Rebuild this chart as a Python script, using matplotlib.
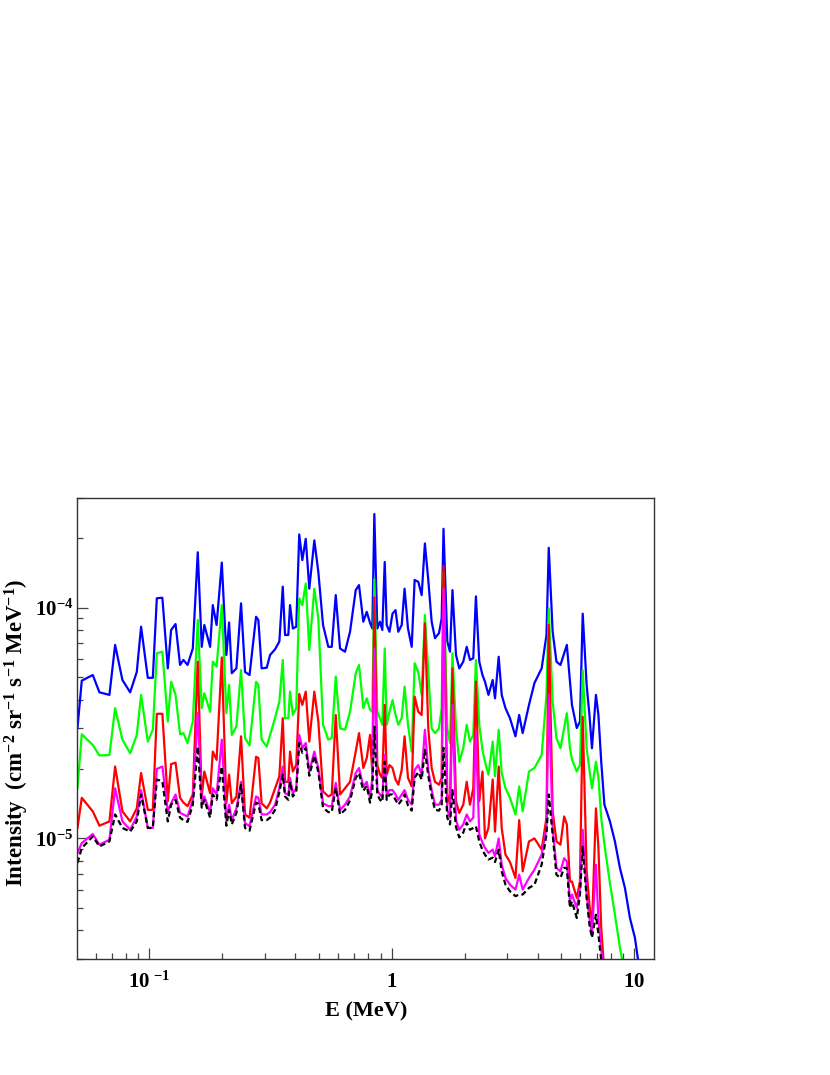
import numpy as np
import matplotlib
matplotlib.use("Agg")
import matplotlib.pyplot as plt
from matplotlib.ticker import LogLocator, NullFormatter

plt.rcParams['font.family'] = ['Liberation Serif', 'DejaVu Serif']
plt.rcParams['font.weight'] = 'bold'
plt.rcParams['mathtext.fontset'] = 'custom'
plt.rcParams['mathtext.rm'] = 'Liberation Serif:bold'
plt.rcParams['mathtext.bf'] = 'Liberation Serif:bold'
plt.rcParams['mathtext.it'] = 'Liberation Serif:bold'

nan = np.nan

# energy bins (MeV)
energy = [
    0.0505, 0.0526, 0.0584, 0.0622, 0.0684, 0.0722, 0.0774, 0.0833, 0.0887, 0.0924,
    0.0985, 0.1033, 0.1073, 0.1131, 0.1191, 0.1229, 0.1282, 0.1338, 0.1381, 0.1437,
    0.151, 0.1583, 0.1644, 0.1685, 0.178, 0.1826, 0.1893, 0.1989, 0.2077, 0.2132,
    0.2187, 0.2285, 0.2388, 0.248, 0.2589, 0.2754, 0.2815, 0.2903, 0.3049, 0.3146,
    0.33, 0.3436, 0.3549, 0.3627, 0.3742, 0.3803, 0.3906, 0.4034, 0.415, 0.4274,
    0.4415, 0.4567, 0.479, 0.4976, 0.5203, 0.5472, 0.5652, 0.5871, 0.6115, 0.6412,
    0.6724, 0.7098, 0.7323, 0.7629, 0.7882, 0.8131, 0.831, 0.847, 0.8712, 0.894,
    0.9137, 0.9348, 0.9527, 0.9784, 1.0067, 1.0358, 1.0637, 1.0985, 1.129, 1.166,
    1.208, 1.242, 1.286, 1.328, 1.369, 1.414, 1.46, 1.507, 1.565, 1.606,
    1.634, 1.694, 1.738, 1.779, 1.84, 1.898, 1.971, 2.037, 2.101, 2.168,
    2.223, 2.295, 2.366, 2.423, 2.504, 2.607, 2.665, 2.76, 2.84, 2.944,
    3.072, 3.237, 3.353, 3.466, 3.68, 3.877, 4.151, 4.345, 4.44, 4.608,
    4.777, 4.962, 5.139, 5.273, 5.431, 5.536, 5.794, 5.972, 6.13, 6.364,
    6.536, 6.693, 6.951, 7.118, 7.309, 7.535, 7.94, 8.325, 8.73, 9.155,
    9.6, 10.07, 10.36, 10.6]

# intensities in units of 1e-5 cm^-2 sr^-1 s^-1 MeV^-1
blue = [
    3.01, 4.83, 5.11, 4.30, 4.19, 6.90, 4.86, 4.30, 5.27, 8.28,
    4.97, 4.97, 11.0, 11.05, 5.46, 8.01, 8.50, 5.65, 5.94, 5.65,
    6.66, 17.4, 6.77, 8.42, 6.77, 10.27, 8.42, 15.7, 6.24, 8.63,
    5.20, 5.46, 10.45, 5.27, 5.11, 9.14, 8.85, 5.46, 5.50, 6.24,
    6.61, 7.14, 12.35, 7.62, 7.62, 10.27, 8.13, 8.28, 20.8, 16.1,
    19.9, 12.1, 19.6, 14.3, 8.42, 6.77, 6.77, 11.35, 6.66, 6.45,
    7.87, 11.93, 12.54, 8.70, 9.60, 8.6, 8.13, 25.5, 8.13, 8.70,
    8.01, 15.8, 8.42, 7.87, 9.43, 9.77, 7.87, 8.42, 12.1, 8.13,
    6.77, 13.2, 12.95, 11.35, 19.0, 13.2, 8.70, 7.38, 7.76, 9.0,
    22.0, 7.14, 6.45, 11.93, 6.24, 5.46, 5.84, 6.77, 5.94, 6.04,
    11.2, 5.84, 5.11, 4.78, 4.19, 4.86, 4.05, 6.13, 4.19, 3.67,
    3.32, 2.77, 3.43, 2.86, 3.79, 4.72, 5.46, 7.62, 18.2, 7.87,
    5.84, 5.65, 6.35, 6.90, 4.78, 3.79, 3.01, 3.21, 9.43, 4.63,
    3.43, 2.46, 4.19, 3.43, 2.15, 1.40, 1.185, 0.97, 0.745, 0.61,
    0.452, 0.37, 0.30, 0.25]

green = [
    1.65, 2.83, 2.54, 2.29, 2.30, 3.67, 2.68, 2.34, 2.81, 4.19,
    2.63, 2.96, 6.35, 6.45, 3.21, 4.78, 4.19, 2.83, 2.86, 2.59,
    3.21, 8.85, 3.67, 4.26, 3.54, 5.84, 5.55, 10.27, 3.49, 4.63,
    2.81, 3.06, 5.37, 2.72, 2.53, 4.78, 4.63, 2.68, 2.50, 2.81,
    3.33, 3.92, 5.94, 3.32, 3.32, 4.33, 3.43, 3.67, 11.0, 10.27,
    12.74, 6.56, 12.1, 8.99, 3.11, 2.68, 2.72, 5.03, 3.0, 2.96,
    3.54, 5.20, 5.65, 3.67, 4.05, 3.61, 3.54, 13.3, 3.54, 3.32,
    3.11, 6.66, 3.11, 3.54, 3.98, 3.43, 3.11, 3.33, 4.55, 3.11,
    2.38, 5.75, 5.27, 4.19, 9.30, 5.27, 3.0, 2.86, 3.0, 3.67,
    14.2, 3.0, 2.59, 6.35, 3.0, 2.15, 2.46, 3.11, 2.63, 2.81,
    5.94, 3.11, 2.42, 2.15, 1.89, 2.63, 1.86, 2.96, 1.92, 1.65,
    1.50, 1.27, 1.68, 1.31, 1.95, 2.02, 2.30, 4.19, 9.95, 3.92,
    2.72, 2.46, 3.0, 3.49, 2.46, 2.2, 1.95, 2.08, 5.37, 2.46,
    1.98, 1.65, 2.15, 1.83, 1.23, 0.94, 0.64, 0.467, 0.336, 0.26,
    nan, nan, nan, nan]

red = [
    1.11, 1.50, 1.31, 1.135, 1.185, 2.05, 1.31, 1.185, 1.35, 1.92,
    1.33, 1.33, 3.47, 3.47, 1.45, 2.10, 2.13, 1.50, 1.43, 1.38,
    1.55, 5.84, 1.52, 1.95, 1.57, 2.38, 2.19, 6.09, 1.42, 1.89,
    1.42, 1.52, 2.77, 1.27, 1.23, 2.26, 2.23, 1.42, 1.35, 1.43,
    1.65, 1.86, 3.32, 1.76, 1.76, 2.38, 1.95, 2.08, 4.23, 3.79,
    4.33, 2.63, 4.33, 3.21, 1.60, 1.52, 1.55, 3.43, 1.55, 1.65,
    1.76, 2.38, 2.86, 2.02, 2.23, 2.81, 1.92, 11.1, 2.08, 1.89,
    1.83, 3.79, 1.89, 2.08, 2.02, 1.80, 1.71, 1.98, 2.77, 1.83,
    1.68, 4.12, 3.54, 3.43, 8.56, 3.0, 2.02, 1.76, 1.71, 1.83,
    15.2, 1.55, 1.40, 5.46, 1.45, 1.29, 1.40, 1.76, 1.40, 1.65,
    4.78, 1.45, 1.95, 1.0, 1.11, 1.80, 1.07, 2.05, 1.11, 0.85,
    0.79, 0.674, 1.20, 0.72, 0.97, 1.0, 0.894, 1.23, 8.42, 1.31,
    0.97, 0.94, 1.245, 1.15, 0.65, 0.65, 0.552, 0.65, 3.37, 0.72,
    0.516, 0.41, 1.35, 0.91, 0.41, 0.26, nan, nan, nan, nan,
    nan, nan, nan, nan]

magenta = [
    0.865, 0.955, 1.045, 0.939, 0.987, 1.65, 1.185, 1.09, 1.245, 1.62,
    1.11, 1.11, 2.0, 2.05, 1.31, 1.42, 1.55, 1.29, 1.27, 1.245,
    1.47, 3.49, 1.45, 1.52, 1.29, 1.65, 1.55, 2.68, 1.20, 1.40,
    1.20, 1.35, 1.76, 1.165, 1.13, 1.52, 1.50, 1.27, 1.27, 1.30,
    1.40, 1.65, 2.05, 1.57, 1.55, 1.83, 1.57, 1.65, 2.81, 2.46,
    2.59, 1.95, 2.38, 2.02, 1.42, 1.38, 1.38, 1.74, 1.33, 1.40,
    1.52, 1.92, 2.02, 1.68, 1.76, 1.50, 1.83, 6.67, 1.62, 1.55,
    1.51, 2.30, 1.55, 1.62, 1.62, 1.55, 1.47, 1.55, 1.62, 1.47,
    1.40, 1.98, 2.08, 1.89, 2.96, 1.98, 1.62, 1.40, 1.40, 1.47,
    12.1, 1.33, 1.23, 3.79, 1.20, 1.09, 1.15, 1.27, 1.185, 1.23,
    2.86, 1.04, 0.96, 0.91, 0.865, 0.894, 0.836, 1.0, 0.769, 0.674,
    0.63, 0.60, 0.696, 0.60, 0.674, 0.732, 0.85, 1.11, 4.19, 1.11,
    0.745, 0.72, 0.82, 0.795, 0.533, 0.571, 0.50, 0.61, 1.09, 0.571,
    0.454, 0.383, 0.769, 0.445, 0.33, 0.25, nan, nan, nan, nan,
    nan, nan, nan, nan]

black = [
    0.783, 0.909, 1.02, 0.923, 0.97, 1.27, 1.11, 1.07, 1.185, 1.55,
    1.11, 1.11, 1.80, 1.77, 1.185, 1.40, 1.47, 1.23, 1.20, 1.18,
    1.40, 2.50, 1.36, 1.47, 1.23, 1.55, 1.47, 2.05, 1.135, 1.33,
    1.15, 1.29, 1.71, 1.11, 1.08, 1.43, 1.41, 1.20, 1.20, 1.23,
    1.33, 1.59, 1.89, 1.52, 1.47, 1.76, 1.52, 1.59, 2.59, 2.35,
    2.47, 1.87, 2.28, 1.94, 1.36, 1.30, 1.30, 1.66, 1.27, 1.33,
    1.46, 1.83, 1.92, 1.61, 1.69, 1.43, 1.62, 3.05, 1.55, 1.47,
    1.44, 2.15, 1.47, 1.55, 1.55, 1.47, 1.40, 1.47, 1.55, 1.39,
    1.32, 1.83, 1.94, 1.80, 2.42, 1.87, 1.53, 1.33, 1.32, 1.39,
    2.47, 1.23, 1.15, 1.62, 1.12, 1.01, 1.06, 1.17, 1.09, 1.11,
    1.13, 0.97, 0.89, 0.85, 0.81, 0.825, 0.79, 0.894, 0.72, 0.63,
    0.59, 0.562, 0.571, 0.571, 0.61, 0.63, 0.77, 1.04, 1.55, 1.04,
    0.696, 0.674, 0.745, 0.745, 0.50, 0.533, 0.452, 0.571, 0.92, 0.552,
    0.423, 0.371, 0.467, 0.383, 0.298, 0.24, nan, nan, nan, nan,
    nan, nan, nan, nan]

unit = 1e-5

fig = plt.figure(figsize=(8.3, 10.75), dpi=100)
ax = fig.add_axes([0.0931, 0.1079, 0.6952, 0.4291])

e = np.array(energy)
ax.plot(e, np.array(blue) * unit, color='#0000ff', lw=1.6)
ax.plot(e, np.array(green) * unit, color='#00ff00', lw=1.6)
ax.plot(e, np.array(red) * unit, color='#ff0000', lw=1.6)
ax.plot(e, np.array(magenta) * unit, color='#ff00ff', lw=1.6)
ax.plot(e, np.array(black) * unit, color='black', lw=1.6, ls=(0, (2.5, 1.5)))

ax.set_xscale('log')
ax.set_yscale('log')
ax.set_xlim(0.0504, 12.1)
ax.set_ylim(3e-6, 3e-4)

ax.set_xticks([0.1, 1, 10])
ax.set_xticklabels([r'$\mathbf{10}^{\ \mathbf{-1}}$', r'$\mathbf{1}$', r'$\mathbf{10}$'])
ax.set_yticks([1e-5, 1e-4])
ax.set_yticklabels([r'$\mathbf{10}^{\mathbf{-5}}$', r'$\mathbf{10}^{\mathbf{-4}}$'])
ax.xaxis.set_minor_locator(LogLocator(base=10, subs=np.arange(2, 10), numticks=20))
ax.yaxis.set_minor_locator(LogLocator(base=10, subs=np.arange(2, 10), numticks=20))
ax.xaxis.set_minor_formatter(NullFormatter())
ax.yaxis.set_minor_formatter(NullFormatter())

ax.tick_params(which='both', direction='in', top=False, right=False, color='#444444', width=0.9)
ax.tick_params(which='major', length=8, labelsize=15)
ax.tick_params(which='minor', length=4.5)
ax.tick_params(axis='x', which='major', pad=9)
ax.tick_params(axis='y', which='major', pad=3)
for sp in ax.spines.values():
    sp.set_color('#333333')
    sp.set_linewidth(1.0)

ax.set_xlabel('E (MeV)', fontsize=16, fontweight='bold', labelpad=6)
ax.set_ylabel(r'Intensity  (cm$^{\mathbf{-2}}$ sr$^{\mathbf{-1}}$ s$^{\mathbf{-1}}$ MeV$^{\mathbf{-1}}$)',
              fontsize=16.5, fontweight='bold')
ax.yaxis.set_label_coords(-0.08, 0.49)

fig.savefig('out.png', dpi=100)
